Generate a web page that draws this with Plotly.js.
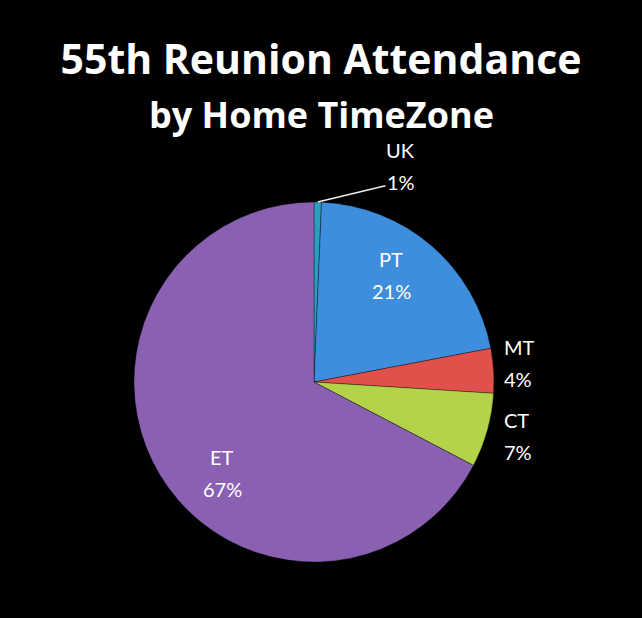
<!DOCTYPE html>
<html>
<head>
<meta charset="utf-8">
<script src="https://cdn.plot.ly/plotly-3.0.1.min.js"></script>
<style>
  html, body { margin: 0; padding: 0; background: #000; }
  #chart { width: 642px; height: 618px; }
</style>
</head>
<body>
<div id="chart"></div>
<script>
// Data (attendee counts by home time zone)
const zones = ["UK", "PT", "MT", "CT", "ET"];
const attendees = [1, 32, 6, 10, 101];
const sliceColors = ["#2a9fbd", "#3f8ede", "#e2504b", "#b3d44a", "#8a61b2"];

const titleLine1 = "55th Reunion Attendance";
const titleLine2 = "by Home TimeZone";

const W = 642, H = 618;
const FONT = "Lato, 'Open Sans', sans-serif";
const TFONT = "'Open Sans', Lato, sans-serif";

// label layout (pixel positions of each label's name line, percent line 32px lower)
const labelStyle = {
  UK: { x: 384, y: 150, anchor: "left" },
  PT: { x: 391, y: 259, anchor: "center" },
  MT: { x: 502, y: 347, anchor: "left" },
  CT: { x: 502, y: 420, anchor: "left" },
  ET: { x: 222, y: 457, anchor: "center" }
};
const lineGap = 32;

// pie geometry (paper domain)
const dom = { x: [0.2087, 0.7695], y: [0.0906, 0.6731] };

const trace = {
  type: "pie",
  labels: zones,
  values: attendees,
  sort: false,
  direction: "clockwise",
  rotation: 0,
  marker: { colors: sliceColors, line: { color: "rgba(0,0,0,0.35)", width: 1 } },
  textinfo: "none",
  hoverinfo: "label+percent",
  domain: dom,
  showlegend: false
};

const total = attendees.reduce((a, b) => a + b, 0);
const annotations = [];
// pie center / radius in pixels (derived from domain)
const cx = (dom.x[0] + dom.x[1]) / 2 * W;
const cy = (1 - (dom.y[0] + dom.y[1]) / 2) * H;
const R = (dom.x[1] - dom.x[0]) / 2 * W;
let cum = 0;
zones.forEach((z, i) => {
  const pct = Math.round(attendees[i] / total * 100) + "%";
  const mid = (cum + attendees[i] / 2) / total * 2 * Math.PI;
  cum += attendees[i];
  const s = labelStyle[z];
  const font = { family: FONT, size: 20, color: "#ffffff" };
  annotations.push({
    text: z, xref: "paper", yref: "paper",
    x: s.x / W, y: 1 - s.y / H, xanchor: s.anchor, yanchor: "middle",
    showarrow: false, font: font
  });
  const pctAnn = {
    text: pct, xref: "paper", yref: "paper",
    x: s.x / W, y: 1 - (s.y + lineGap) / H, xanchor: s.anchor, yanchor: "middle",
    showarrow: false, font: font
  };
  if (z === "UK") {
    // leader line from the slice rim to the percent label
    const tipX = cx + R * Math.sin(mid), tipY = cy - R * Math.cos(mid);
    const txtX = s.x + 17, txtY = s.y + lineGap;
    Object.assign(pctAnn, {
      x: tipX / W, y: 1 - tipY / H, xanchor: "center",
      showarrow: true, arrowhead: 0, arrowwidth: 1.4, arrowcolor: "#eeeeee",
      standoff: 0, ax: txtX - tipX, ay: txtY - tipY, axref: "pixel", ayref: "pixel"
    });
  }
  annotations.push(pctAnn);
});

annotations.push({
  text: titleLine2,
  xref: "paper", yref: "paper",
  x: 0.5, xanchor: "center",
  y: 1 - 114 / H, yanchor: "middle",
  showarrow: false,
  font: { family: TFONT, size: 36, color: "#ffffff", weight: "bold" }
});

const layout = {
  width: W,
  height: H,
  paper_bgcolor: "#000000",
  plot_bgcolor: "#000000",
  margin: { l: 0, r: 0, t: 0, b: 0 },
  showlegend: false,
  title: {
    text: titleLine1,
    font: { family: TFONT, size: 41, color: "#ffffff", weight: "bold" },
    x: 0.5, xanchor: "center",
    y: 1 - 60 / H, yanchor: "middle", yref: "container"
  },
  annotations: annotations
};

Plotly.newPlot("chart", [trace], layout, { displayModeBar: false, staticPlot: true });
</script>
</body>
</html>
